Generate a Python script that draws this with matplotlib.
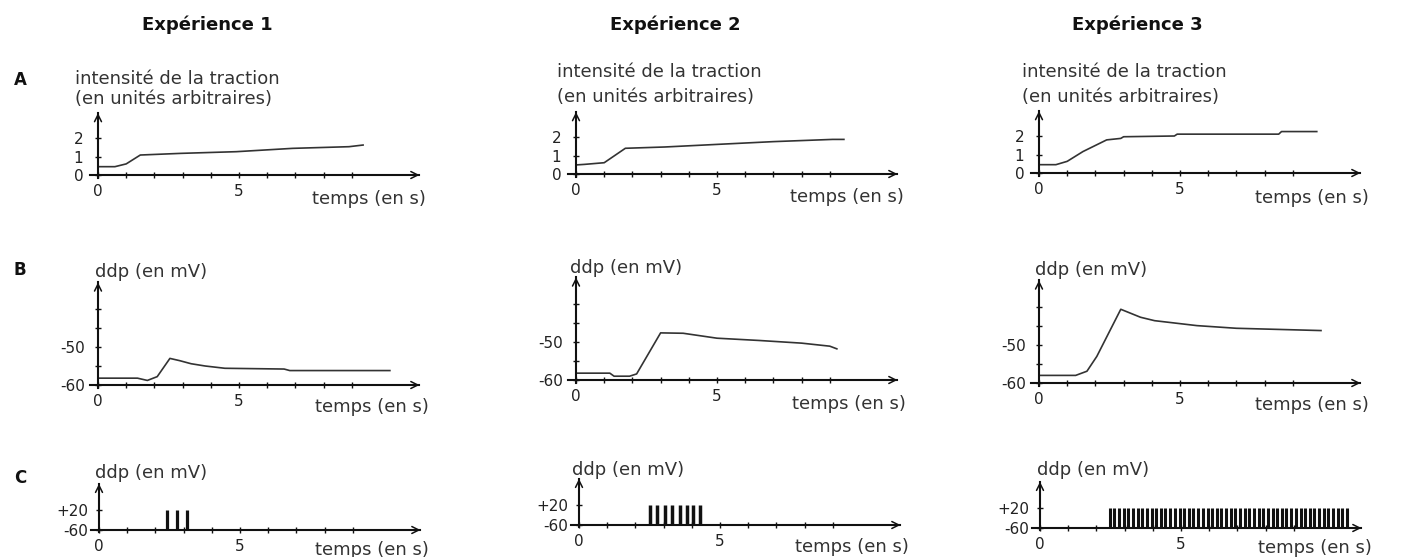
import matplotlib
matplotlib.use('Agg')
import matplotlib.pyplot as plt

W, H = 1407, 557

experiences = ['Expérience 1', 'Expérience 2', 'Expérience 3']
row_letters = ['A', 'B', 'C']

# Row A : intensité de la traction (unités arbitraires)
tA1 = [0, 0.6, 1.0, 1.5, 2.95, 4.9, 6.9, 8.9, 9.4]
yA1 = [0.45, 0.45, 0.6, 1.08, 1.17, 1.26, 1.44, 1.53, 1.62]
tA2 = [0, 0.3, 1.0, 1.75, 3.15, 5.0, 7.0, 9.1, 9.5]
yA2 = [0.49, 0.52, 0.61, 1.39, 1.46, 1.6, 1.75, 1.87, 1.87]
tA3 = [0, 0.6, 1.0, 1.56, 2.4, 2.9, 3.0, 4.8, 4.9, 8.5, 8.6, 9.85]
yA3 = [0.45, 0.45, 0.63, 1.16, 1.79, 1.87, 1.96, 2.0, 2.1, 2.1, 2.24, 2.24]

# Row B : ddp (mV)
tB1 = [0, 1.4, 1.75, 2.1, 2.55, 2.9, 3.3, 3.8, 4.5, 6.6, 6.8, 10.35]
vB1 = [-58.2, -58.2, -58.8, -57.8, -53.0, -53.6, -54.4, -55.0, -55.6, -55.8, -56.2, -56.2]
tB2 = [0, 1.2, 1.35, 1.9, 2.15, 3.0, 3.8, 5.0, 6.5, 8.0, 9.0, 9.25]
vB2 = [-58.2, -58.2, -59.0, -59.0, -58.4, -47.6, -47.7, -49.0, -49.6, -50.3, -51.1, -51.8]
tB3 = [0, 1.3, 1.7, 2.05, 2.9, 3.6, 4.1, 5.6, 7.0, 10.0]
vB3 = [-58.0, -58.0, -56.9, -53.0, -40.6, -42.7, -43.6, -44.9, -45.6, -46.2]

# Row C : potentiels d'action (instants, s)
spikes1 = [2.42, 2.77, 3.12]
spikes2 = [2.51, 2.78, 3.04, 3.31, 3.57, 3.84, 4.04, 4.28]
spikes3 = [2.47, 2.64, 2.80, 2.97, 3.13, 3.30, 3.46, 3.63, 3.79, 3.96, 4.12, 4.29,
           4.45, 4.62, 4.78, 4.95, 5.11, 5.28, 5.44, 5.61, 5.77, 5.94, 6.10, 6.27,
           6.43, 6.60, 6.76, 6.93, 7.09, 7.26, 7.42, 7.59, 7.75, 7.92, 8.08, 8.25,
           8.41, 8.58, 8.74, 8.91, 9.07, 9.24, 9.40, 9.57, 9.73, 9.90, 10.06, 10.23,
           10.39, 10.56, 10.72, 10.89]
spike_low, spike_high = -60, 20

xticks = [0, 1, 2, 3, 4, 5, 6, 7, 8, 9]
xticklabels = ['0', '', '', '', '', '5', '', '', '', '']
yticksA, yticklabelsA = [0, 1, 2], ['0', '1', '2']
yticksB, yticklabelsB = [-60, -55, -50, -45, -40], ['-60', '', '-50', '', '']
yticksC, yticklabelsC = [-60, 20], ['-60', '+20']

ylabelA = ['intensité de la traction', '(en unités arbitraires)']
ylabelBC = 'ddp (en mV)'
xlabel = 'temps (en s)'

fig = plt.figure(figsize=(W / 100, H / 100), dpi=100)
fig.patch.set_facecolor('white')

PPU_X = 28.2
XLIM = (-0.3, 11.4)


def make_axes(x0, ybase_px, ppu_y, ylim, ybase):
    left = x0 + XLIM[0] * PPU_X
    width = (XLIM[1] - XLIM[0]) * PPU_X
    bottom_px = ybase_px + (ybase - ylim[0]) * ppu_y
    height = (ylim[1] - ylim[0]) * ppu_y
    ax = fig.add_axes([left / W, 1 - bottom_px / H, width / W, height / H])
    ax.set_xlim(*XLIM)
    ax.set_ylim(*ylim)
    ax.patch.set_alpha(0)
    for s in ['top', 'right']:
        ax.spines[s].set_visible(False)
    ax.spines['left'].set_position(('data', 0))
    ax.spines['bottom'].set_position(('data', ybase))
    for s in ['left', 'bottom']:
        ax.spines[s].set_linewidth(1.5)
        ax.spines[s].set_color('#111111')
    ax.annotate('', xy=(XLIM[1], ybase), xytext=(XLIM[1] - 0.5, ybase),
                arrowprops=dict(arrowstyle='->,head_length=0.5,head_width=0.25',
                                lw=1.1, color='#111111', shrinkA=0, shrinkB=0),
                annotation_clip=False)
    dy = (ylim[1] - ylim[0]) * 0.1
    ax.annotate('', xy=(0, ylim[1]), xytext=(0, ylim[1] - dy),
                arrowprops=dict(arrowstyle='->,head_length=0.5,head_width=0.25',
                                lw=1.1, color='#111111', shrinkA=0, shrinkB=0),
                annotation_clip=False)
    ax.set_xticks(xticks)
    ax.set_xticklabels(xticklabels)
    ax.tick_params(axis='both', direction='inout', length=5, width=1,
                   labelsize=11, labelcolor='#222222', color='#111111')
    ax.tick_params(axis='x', pad=4)
    return ax


def ftext(x, y, s, **kw):
    fig.text(x / W, 1 - y / H, s, **kw)


x0s = [98, 576, 1039]
title_x = [207, 675, 1137]

# Row A
ybA = [175, 174, 173]
dataA = [(tA1, yA1), (tA2, yA2), (tA3, yA3)]
for i in range(3):
    ax = make_axes(x0s[i], ybA[i], 18.5, (-0.15, 3.35), 0)
    ax.set_yticks(yticksA)
    ax.set_yticklabels(yticklabelsA)
    ax.tick_params(axis='y', pad=8)
    ax.plot(dataA[i][0], dataA[i][1], color='#333333', lw=1.2)

# Row B
ybB = [385, 380, 383]
dataB = [(tB1, vB1), (tB2, vB2), (tB3, vB3)]
for i in range(3):
    ax = make_axes(x0s[i], ybB[i], 3.8, (-60.8, -33.0), -60)
    ax.set_yticks(yticksB)
    ax.set_yticklabels(yticklabelsB)
    ax.tick_params(axis='y', pad=7)
    ax.plot(dataB[i][0], dataB[i][1], color='#333333', lw=1.2)

# Row C
x0C = [99, 579, 1040]
ybC = [530, 525, 528]
spikes = [spikes1, spikes2, spikes3]
spike_lw = [2.3, 2.5, 2.2]
for i in range(3):
    ax = make_axes(x0C[i], ybC[i], 0.25, (-68, 125), -60)
    ax.set_yticks(yticksC)
    ax.set_yticklabels(yticklabelsC)
    ax.tick_params(axis='y', pad=5)
    ax.vlines(spikes[i], spike_low, spike_high, color='#111111', lw=spike_lw[i])

# Titles and row letters
for i in range(3):
    ftext(title_x[i], 25, experiences[i], ha='center', va='center',
          fontsize=13, fontweight='bold', color='#111111')
for letter, y in zip(row_letters, [80, 270, 478]):
    ftext(20, y, letter, ha='center', va='center', fontsize=12,
          fontweight='bold', color='#111111')

lab_kw = dict(ha='left', va='center', fontsize=13, color='#333333')
# Row A labels
for (x, y1, y2) in [(75, 79, 99), (557, 72, 97), (1022, 72, 97)]:
    ftext(x, y1, ylabelA[0], **lab_kw)
    ftext(x, y2, ylabelA[1], **lab_kw)
# ddp labels
for (x, y) in [(95, 272), (570, 268), (1035, 270), (95, 473), (572, 470), (1037, 470)]:
    ftext(x, y, ylabelBC, **lab_kw)
# temps labels
for (x, y) in [(312, 199), (790, 197), (1255, 198),
               (315, 407), (792, 404), (1255, 405),
               (315, 550), (795, 547), (1258, 548)]:
    ftext(x, y, xlabel, **lab_kw)

fig.savefig('out.png', dpi=100, facecolor='white')
